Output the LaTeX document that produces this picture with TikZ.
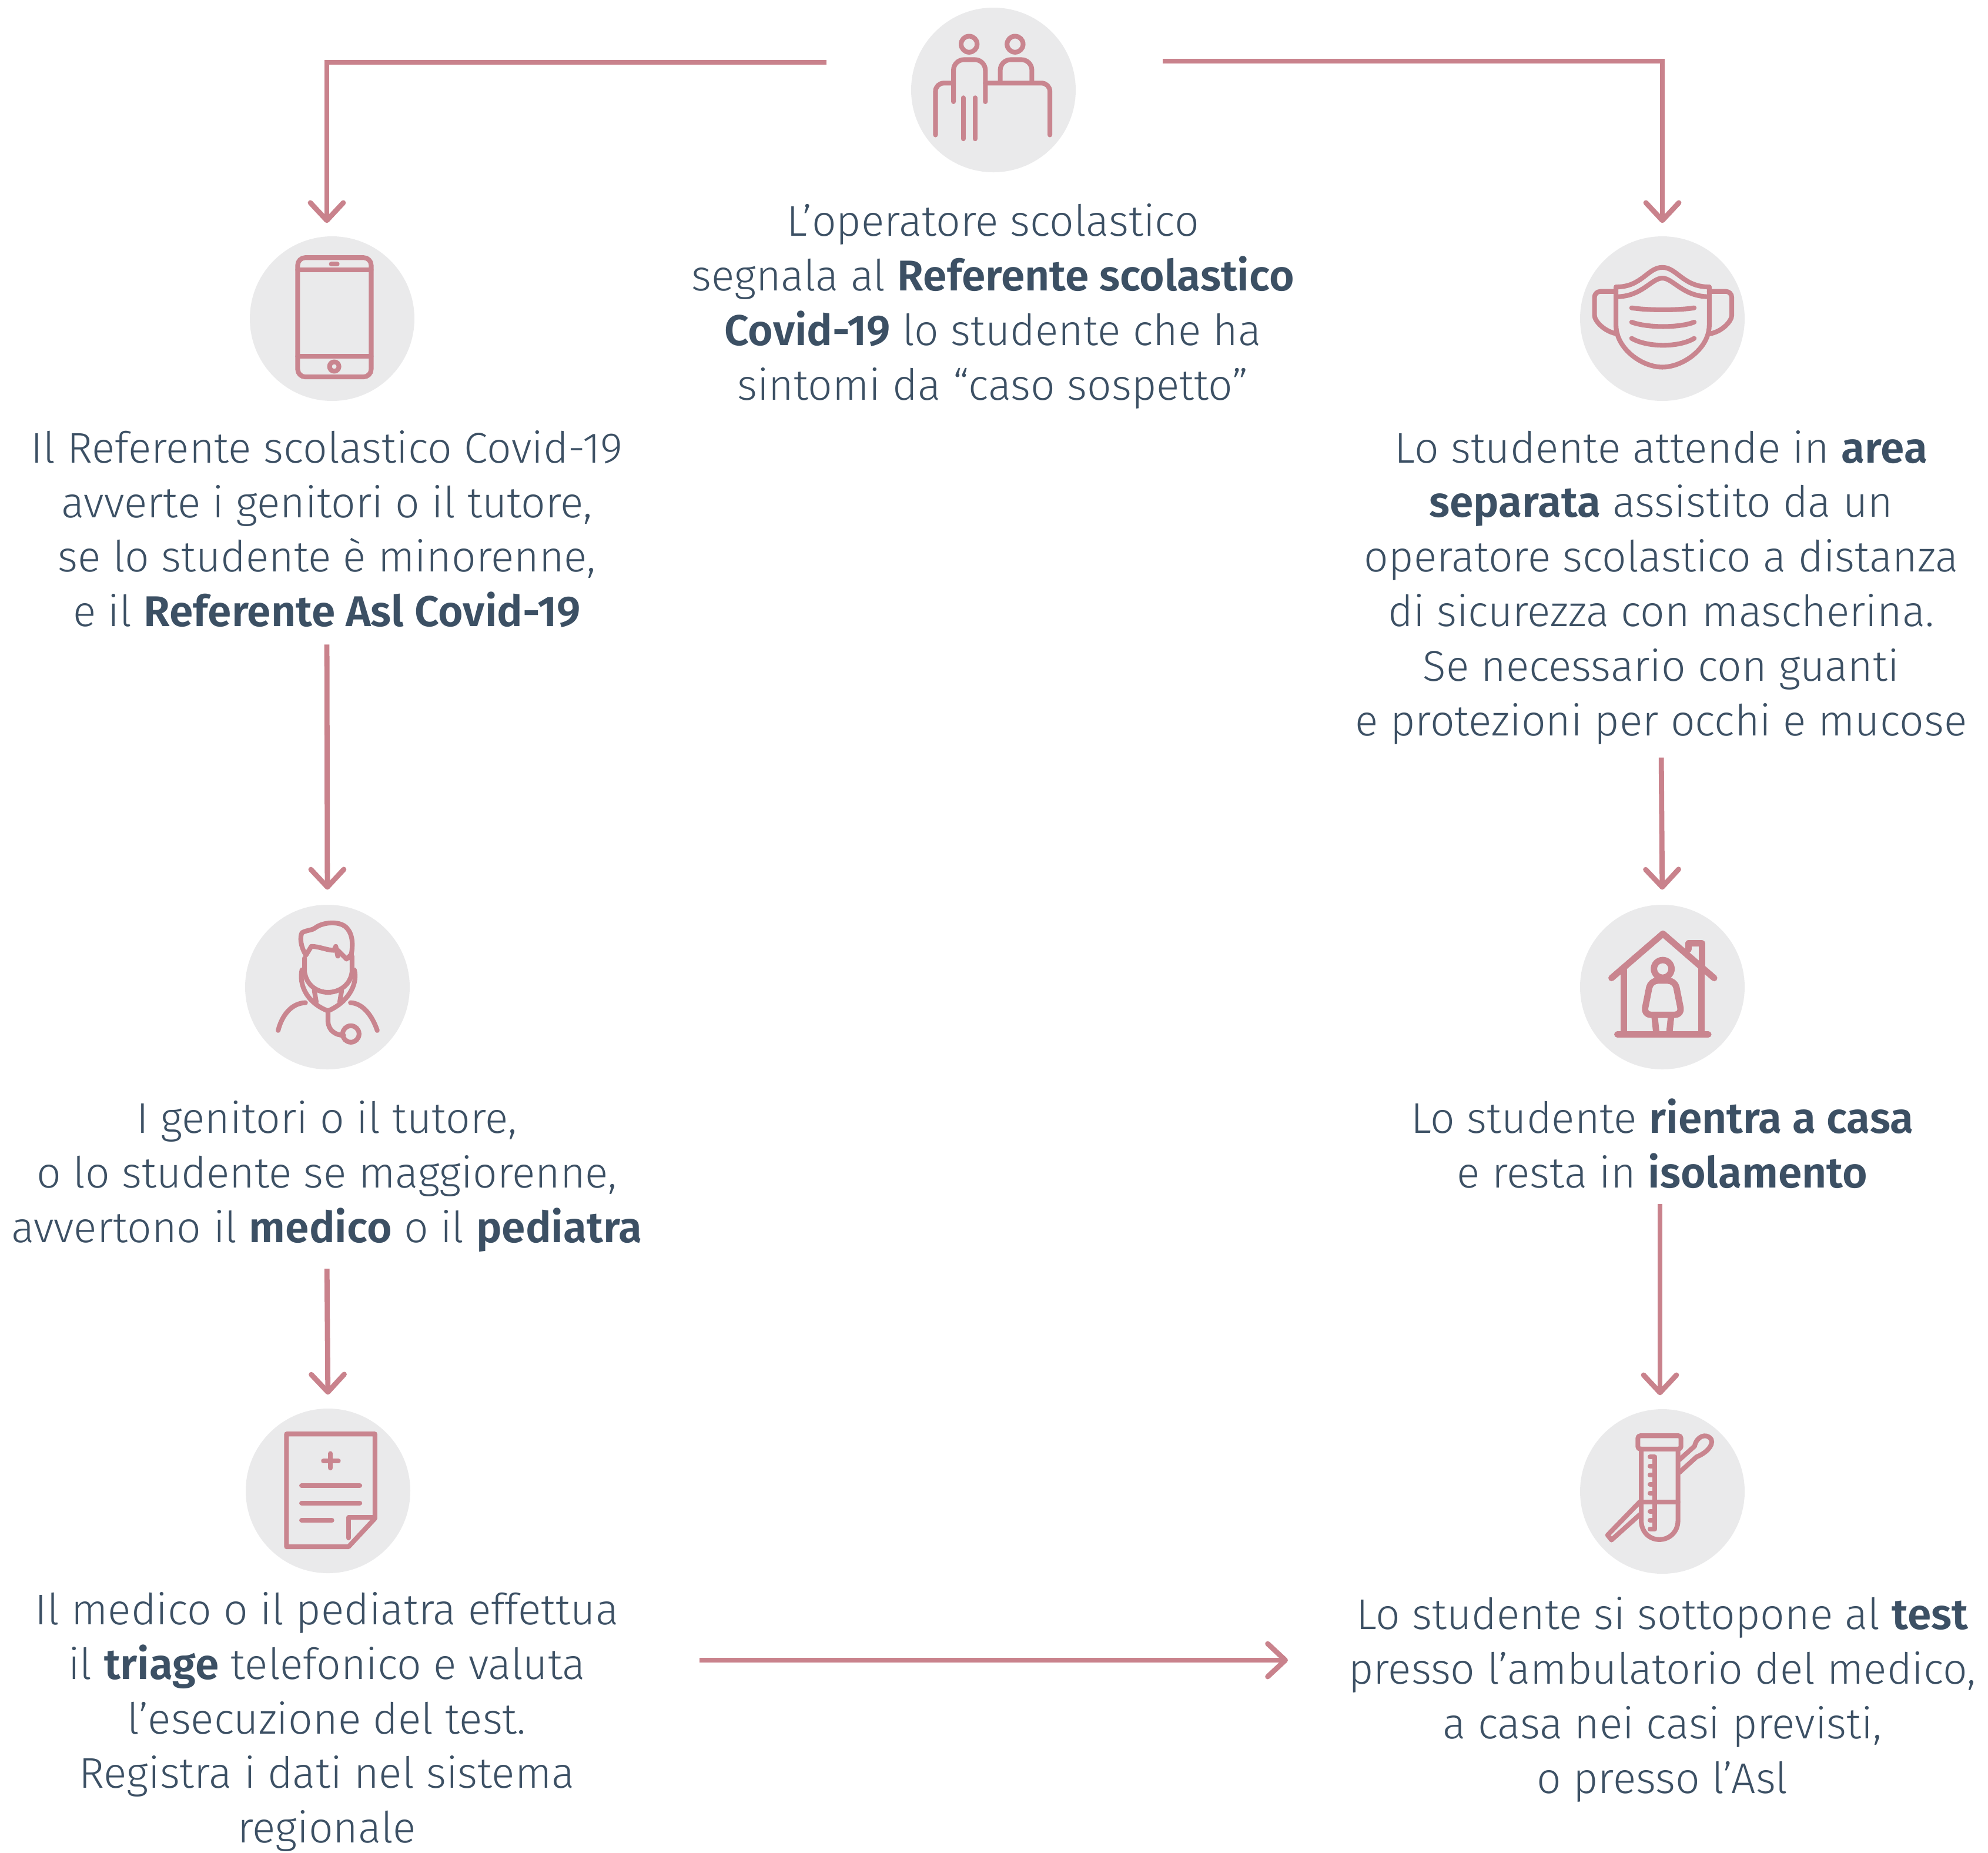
\documentclass[tikz,border=0pt]{standalone}
\usepackage{fontspec}
\setmainfont{Fira Sans}[UprightFont={* Light},BoldFont={* SemiBold}]
\usepackage{tikz}
\usetikzlibrary{arrows.meta, positioning}
\definecolor{mainRose}{HTML}{C9828C}
\definecolor{iconRose}{HTML}{C9858F}
\definecolor{discGray}{HTML}{EAEAEB}
\definecolor{textSlate}{HTML}{3C5064}
\tikzset{
    stepText/.style={align=center, inner sep=0pt, text=textSlate, font=\fontsize{20.8}{26.4}\selectfont},
    iconDisc/.style={circle, fill=discGray, minimum size=2.8cm, inner sep=0pt},
    link/.style={draw=mainRose, line width=2.5pt, -{Straight Barb[length=0.3cm,width=0.56cm,round]}},
    iconLine/.style={draw=iconRose, line width=2.3pt, line cap=round, line join=round},
    iconBold/.style={iconLine, line width=3.1pt},
    iconGrid/.style={x=0.00333cm, y=-0.00333cm},
}
\begin{document}
\begin{tikzpicture}[x=1cm, y=-1cm]
    \useasboundingbox (0,0) rectangle (33.82,31.51);

    \node[iconDisc] (opIcon) at (16.90,1.53) {};
    \node[iconDisc] (phoneIcon) at (5.65,5.42) {};
    \node[iconDisc] (maskIcon) at (28.28,5.42) {};
    \node[iconDisc] (doctorIcon) at (5.57,16.79) {};
    \node[iconDisc] (homeIcon) at (28.28,16.79) {};
    \node[iconDisc] (recipeIcon) at (5.58,25.36) {};
    \node[iconDisc] (testIcon) at (28.28,25.37) {};

    \node[stepText] (opText) at (16.89,5.21) {L’operatore scolastico\\segnala al \textbf{Referente scolastico}\\\textbf{Covid-19} lo studente che ha\\sintomi da “caso sospetto”};
    \node[stepText] (phoneText) at (5.56,9.00) {Il Referente scolastico Covid-19\\avverte i genitori o il tutore,\\se lo studente è minorenne,\\e il \textbf{Referente Asl Covid-19}};
    \node[stepText] (maskText) at (28.26,9.99) {Lo studente attende in \textbf{area}\\\textbf{separata} assistito da un\\operatore scolastico a distanza\\di sicurezza con mascherina.\\Se necessario con guanti\\e protezioni per occhi e mucose};
    \node[stepText] (doctorText) at (5.56,20.01) {I genitori o il tutore,\\o lo studente se maggiorenne,\\avvertono il \textbf{medico} o il \textbf{pediatra}};
    \node[stepText] (homeText) at (28.28,19.45) {Lo studente \textbf{rientra a casa}\\e resta in \textbf{isolamento}};
    \node[stepText] (recipeText) at (5.56,29.29) {Il medico o il pediatra effettua\\il \textbf{triage} telefonico e valuta\\l’esecuzione del test.\\Registra i dati nel sistema\\regionale};
    \node[stepText] (testText) at (28.28,28.91) {Lo studente si sottopone al \textbf{test}\\presso l’ambulatorio del medico,\\a casa nei casi previsti,\\o presso l’Asl};

    \coordinate (opLeft) at (14.06,1.06);
    \coordinate (opRight) at (19.78,1.04);
    \coordinate (recipeOut) at (11.90,28.24);
    \coordinate (testIn) at (21.91,28.24);

    \draw[link, shorten >=0.22cm] (opLeft) -| ([xshift=-0.09cm]phoneIcon.north);
    \draw[link, shorten >=0.22cm] (opRight) -| (maskIcon.north);
    \draw[link, shorten <=0.28cm, shorten >=0.25cm] (phoneText.south) -- (doctorIcon.north);
    \draw[link, shorten <=0.22cm, shorten >=0.25cm] (maskText.south) -- (homeIcon.north);
    \draw[link, shorten <=0.28cm, shorten >=0.23cm] (doctorText.south) -- (recipeIcon.north);
    \draw[link, shorten <=0.26cm, shorten >=0.23cm] ([xshift=-0.04cm]homeText.south) -- ([xshift=-0.04cm]testIcon.north);
    \draw[link] (recipeOut) -- (testIn);

    % reception desk
    \begin{scope}[shift={(15,0)}, iconGrid]
        \draw[iconLine] (447,226) circle (41) (682,226) circle (41);
        \draw[iconLine, rounded corners=0.18cm] (367,520) -- (367,305) -- (530,305) -- (530,520);
        \draw[iconLine, rounded corners=0.18cm] (606,420) -- (606,305) -- (768,305) -- (768,420);
        \draw[iconLine, rounded corners=0.14cm] (275,690) -- (275,425) -- (367,425);
        \draw[iconLine, rounded corners=0.14cm] (530,425) -- (860,425) -- (860,690);
        \draw[iconLine] (417,500) -- (417,710) (478,500) -- (478,710);
    \end{scope}

    % phone
    \begin{scope}[shift={(3.9,3.8)}, iconGrid]
        \draw[iconLine, rounded corners=0.13cm] (350,175) rectangle (726,785);
        \draw[iconLine] (350,238) -- (726,238) (350,680) -- (726,680) (522,208) -- (552,208);
        \draw[iconLine] (537,732) circle (24);
    \end{scope}

    % mask
    \begin{scope}[shift={(26.6,3.8)}, iconGrid]
        \draw[iconLine] (270,325) .. controls (400,325) and (430,225) .. (505,225) .. controls (580,225) and (610,325) .. (745,325);
        \draw[iconLine] (270,375) .. controls (400,375) and (450,280) .. (505,280) .. controls (560,280) and (610,375) .. (745,375);
        \draw[iconLine] (268,325) -- (268,520) .. controls (268,640) and (400,735) .. (505,735) .. controls (610,735) and (745,640) .. (745,520) -- (745,325);
        \draw[iconLine, rounded corners=0.1cm] (268,348) -- (158,348) -- (158,440) .. controls (158,500) and (210,555) .. (275,565);
        \draw[iconLine, rounded corners=0.1cm] (745,348) -- (860,348) -- (860,440) .. controls (860,500) and (810,555) .. (745,565);
        \draw[iconLine] (348,432) .. controls (430,445) and (590,445) .. (668,432);
        \draw[iconLine] (348,505) .. controls (430,535) and (590,535) .. (668,505);
        \draw[iconLine] (348,588) .. controls (430,635) and (590,635) .. (668,588);
    \end{scope}

    % doctor
    \begin{scope}[shift={(3.9,15.2)}, iconGrid]
        \draw[iconLine] (392,315) .. controls (365,270) and (360,225) .. (372,200) .. controls (400,185) and (420,190) .. (440,175) .. controls (480,145) and (560,140) .. (595,170) .. controls (635,205) and (635,270) .. (620,330);
        \draw[iconLine] (392,315) -- (420,270) .. controls (460,270) and (500,290) .. (535,290) -- (545,270) -- (555,320) (555,290) -- (600,335) -- (625,310);
        \draw[iconLine] (385,330) -- (385,400) .. controls (395,470) and (450,505) .. (505,505) .. controls (560,505) and (620,470) .. (628,400) -- (628,320);
        \draw[iconLine] (372,390) .. controls (355,470) and (400,560) .. (505,600) .. controls (600,560) and (660,470) .. (640,390);
        \draw[iconLine] (435,495) -- (445,555) (575,495) -- (565,555);
        \draw[iconLine] (390,558) .. controls (320,560) and (270,620) .. (250,700);
        \draw[iconLine] (620,558) .. controls (680,560) and (730,620) .. (757,700);
        \draw[iconLine] (505,600) -- (505,650) .. controls (505,700) and (545,725) .. (585,725);
        \draw[iconLine] (622,718) circle (42);
    \end{scope}

    % house
    \begin{scope}[shift={(26.6,15.2)}, iconGrid]
        \draw[iconBold] (245,432) -- (508,205) -- (770,432);
        \draw[iconBold] (308,390) -- (308,720) (705,380) -- (705,720) (275,720) -- (740,720);
        \draw[iconBold] (640,285) -- (640,255) -- (708,255) -- (708,370);
        \draw[iconBold] (507,385) circle (45);
        \draw[iconBold, rounded corners=0.12cm] (410,620) -- (445,445) -- (570,445) -- (605,620) -- cycle;
        \draw[iconBold] (465,625) -- (475,720) (550,625) -- (540,720);
    \end{scope}

    % sheet
    \begin{scope}[shift={(3.9,23.8)}, iconGrid]
        \draw[iconLine] (293,178) -- (745,178) -- (745,610) -- (610,755) -- (293,755) -- cycle;
        \draw[iconLine] (610,710) -- (610,605) -- (745,605);
        \draw[iconLine] (482,315) -- (558,315) (518,278) -- (518,352);
        \draw[iconLine] (370,442) -- (668,442) (370,531) -- (668,531) (370,620) -- (525,620);
    \end{scope}

    % tube
    \begin{scope}[shift={(26.6,23.8)}, iconGrid]
        \draw[iconLine, rounded corners=0.04cm] (380,187) rectangle (600,255);
        \draw[iconLine] (397,255) -- (397,620) .. controls (397,680) and (440,718) .. (490,718) .. controls (540,718) and (585,680) .. (585,620) -- (585,255);
        \draw[iconLine] (397,525) -- (585,525);
        \draw[iconLine] (442,295) -- (466,295) -- (466,665) -- (442,665);
        \foreach \tickY in {342,388,435,482,527,575,620}
            \draw[iconLine] (442,\tickY) -- (466,\tickY);
        \draw[iconLine] (390,525) -- (225,695) -- (245,720) -- (390,590);
        \draw[iconLine] (592,310) -- (670,240) .. controls (680,190) and (730,170) .. (755,205) .. controls (770,240) and (720,280) .. (680,295) -- (592,375);
    \end{scope}
\end{tikzpicture}
\end{document}
